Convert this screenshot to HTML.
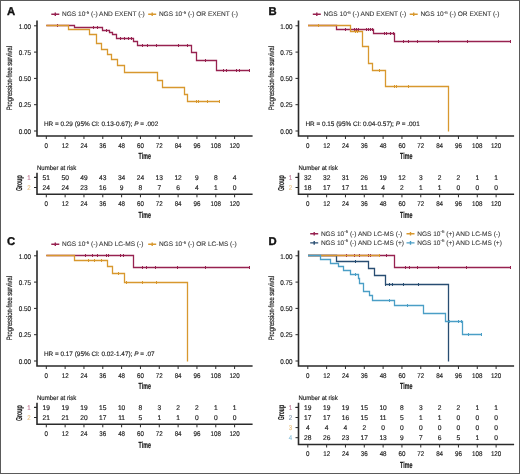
<!DOCTYPE html><html><head><meta charset="utf-8"><style>html,body{margin:0;padding:0;background:#fff;width:520px;height:474px;overflow:hidden}svg{display:block;will-change:transform;text-rendering:geometricPrecision}</style></head><body><svg width="520" height="474" viewBox="0 0 520 474" font-family='"Liberation Sans", sans-serif'>
<rect x="0" y="0" width="520" height="474" fill="#fff"/>
<text x="6.90" y="14.70" font-size="11.3" text-anchor="start" fill="#111" font-weight="bold" stroke="#111" stroke-width="0.35">A</text>
<path d="M51.30,14.30 L59.30,14.30 M55.30,12.50 L55.30,16.10" stroke="#972250" stroke-width="1.4" fill="none"/>
<text x="62.00" y="16.20" font-size="6.55" fill="#3a3a3a" stroke="#3a3a3a" stroke-width="0.1">NGS 10<tspan dy="-2.6" font-size="4.4">-5</tspan><tspan dy="2.6"> (-) AND EXENT (-)</tspan></text>
<path d="M148.20,14.30 L156.20,14.30 M152.20,12.50 L152.20,16.10" stroke="#D8982E" stroke-width="1.4" fill="none"/>
<text x="158.90" y="16.20" font-size="6.55" fill="#3a3a3a" stroke="#3a3a3a" stroke-width="0.1">NGS 10<tspan dy="-2.6" font-size="4.4">-5</tspan><tspan dy="2.6"> (-) OR EXENT (-)</tspan></text>
<path d="M37.00,20.50 L37.00,136.00 L252.60,136.00" fill="none" stroke="#2a2a2a" stroke-width="1.6"/>
<text transform="translate(31.00,28.50) scale(0.92,1)" font-size="6.9" text-anchor="end" fill="#222222" font-weight="normal"  stroke="#222222" stroke-width="0.16">1.00</text>
<text transform="translate(31.00,54.80) scale(0.92,1)" font-size="6.9" text-anchor="end" fill="#222222" font-weight="normal"  stroke="#222222" stroke-width="0.16">0.75</text>
<text transform="translate(31.00,81.10) scale(0.92,1)" font-size="6.9" text-anchor="end" fill="#222222" font-weight="normal"  stroke="#222222" stroke-width="0.16">0.50</text>
<text transform="translate(31.00,107.40) scale(0.92,1)" font-size="6.9" text-anchor="end" fill="#222222" font-weight="normal"  stroke="#222222" stroke-width="0.16">0.25</text>
<text transform="translate(31.00,133.70) scale(0.92,1)" font-size="6.9" text-anchor="end" fill="#222222" font-weight="normal"  stroke="#222222" stroke-width="0.16">0.00</text>
<text transform="translate(46.30,147.90) scale(0.9,1)" font-size="6.9" text-anchor="middle" fill="#222222" font-weight="normal"  stroke="#222222" stroke-width="0.16">0</text>
<text transform="translate(65.13,147.90) scale(0.9,1)" font-size="6.9" text-anchor="middle" fill="#222222" font-weight="normal"  stroke="#222222" stroke-width="0.16">12</text>
<text transform="translate(83.96,147.90) scale(0.9,1)" font-size="6.9" text-anchor="middle" fill="#222222" font-weight="normal"  stroke="#222222" stroke-width="0.16">24</text>
<text transform="translate(102.79,147.90) scale(0.9,1)" font-size="6.9" text-anchor="middle" fill="#222222" font-weight="normal"  stroke="#222222" stroke-width="0.16">36</text>
<text transform="translate(121.62,147.90) scale(0.9,1)" font-size="6.9" text-anchor="middle" fill="#222222" font-weight="normal"  stroke="#222222" stroke-width="0.16">48</text>
<text transform="translate(140.45,147.90) scale(0.9,1)" font-size="6.9" text-anchor="middle" fill="#222222" font-weight="normal"  stroke="#222222" stroke-width="0.16">60</text>
<text transform="translate(159.28,147.90) scale(0.9,1)" font-size="6.9" text-anchor="middle" fill="#222222" font-weight="normal"  stroke="#222222" stroke-width="0.16">72</text>
<text transform="translate(178.11,147.90) scale(0.9,1)" font-size="6.9" text-anchor="middle" fill="#222222" font-weight="normal"  stroke="#222222" stroke-width="0.16">84</text>
<text transform="translate(196.94,147.90) scale(0.9,1)" font-size="6.9" text-anchor="middle" fill="#222222" font-weight="normal"  stroke="#222222" stroke-width="0.16">96</text>
<text transform="translate(215.77,147.90) scale(0.9,1)" font-size="6.9" text-anchor="middle" fill="#222222" font-weight="normal"  stroke="#222222" stroke-width="0.16">108</text>
<text transform="translate(234.60,147.90) scale(0.9,1)" font-size="6.9" text-anchor="middle" fill="#222222" font-weight="normal"  stroke="#222222" stroke-width="0.16">120</text>
<path d="M34.00,25.80 L37.00,25.80 M34.00,52.10 L37.00,52.10 M34.00,78.40 L37.00,78.40 M34.00,104.70 L37.00,104.70 M34.00,131.00 L37.00,131.00 M46.30,136.00 L46.30,139.00 M65.13,136.00 L65.13,139.00 M83.96,136.00 L83.96,139.00 M102.79,136.00 L102.79,139.00 M121.62,136.00 L121.62,139.00 M140.45,136.00 L140.45,139.00 M159.28,136.00 L159.28,139.00 M178.11,136.00 L178.11,139.00 M196.94,136.00 L196.94,139.00 M215.77,136.00 L215.77,139.00 M234.60,136.00 L234.60,139.00 " fill="none" stroke="#2a2a2a" stroke-width="1"/>
<text transform="translate(144.70,159.30) scale(0.6,1)" font-size="8.8" text-anchor="middle" fill="#222222" font-weight="bold"  stroke="#222222" stroke-width="0.22">Time</text>
<text transform="translate(12.30,78.20) rotate(-90) scale(0.745,1)" font-size="7.8" stroke="#222222" stroke-width="0.2" text-anchor="middle" fill="#222222">Progression-free survival</text>
<text x="43.90" y="125.90" font-size="6.42" fill="#222222" stroke="#222222" stroke-width="0.14">HR = 0.29 (95% CI: 0.13-0.67); <tspan font-style="italic">P</tspan> = .002</text>
<path d="M46.30,25.50 L74.50,25.50 L74.50,27.50 L102.50,27.50 L102.50,30.50 L109.50,30.50 L109.50,32.50 L112.50,32.50 L112.50,34.50 L116.50,34.50 L116.50,38.50 L133.50,38.50 L133.50,41.50 L137.50,41.50 L137.50,45.50 L191.50,45.50 L191.50,52.50 L196.50,52.50 L196.50,60.50 L216.50,60.50 L216.50,70.50 L249.50,70.50" fill="none" stroke="#972250" stroke-width="1.3" stroke-linejoin="miter"/>
<path d="M57.50,24.00 L57.50,27.00 M93.50,26.00 L93.50,29.00 M97.50,26.00 L97.50,29.00 M106.50,29.00 L106.50,32.00 M120.50,37.00 L120.50,40.00 M124.50,37.00 L124.50,40.00 M128.50,37.00 L128.50,40.00 M131.50,37.00 L131.50,40.00 M142.50,44.00 L142.50,47.00 M147.50,44.00 L147.50,47.00 M156.50,44.00 L156.50,47.00 M178.50,44.00 L178.50,47.00 M187.50,44.00 L187.50,47.00 M205.50,59.00 L205.50,62.00 M223.50,69.00 L223.50,72.00 M226.50,69.00 L226.50,72.00 M236.50,69.00 L236.50,72.00 M239.50,69.00 L239.50,72.00 M249.50,69.00 L249.50,72.00 " fill="none" stroke="#972250" stroke-width="1.0"/>
<path d="M46.30,25.50 L68.50,25.50 L68.50,29.50 L89.50,29.50 L89.50,34.50 L96.50,34.50 L96.50,43.50 L101.50,43.50 L101.50,49.50 L107.50,49.50 L107.50,54.50 L111.50,54.50 L111.50,59.50 L117.50,59.50 L117.50,65.50 L124.50,65.50 L124.50,72.50 L157.50,72.50 L157.50,80.50 L162.50,80.50 L162.50,87.50 L184.50,87.50 L184.50,94.50 L187.50,94.50 L187.50,101.50 L219.50,101.50" fill="none" stroke="#D8982E" stroke-width="1.3" stroke-linejoin="miter"/>
<path d="M196.50,100.00 L196.50,103.00 M198.50,100.00 L198.50,103.00 M207.50,100.00 L207.50,103.00 M219.50,100.00 L219.50,103.00 " fill="none" stroke="#D8982E" stroke-width="1.0"/>
<text transform="translate(37.00,170.00) scale(0.93,1)" font-size="6.5" text-anchor="start" fill="#222222" font-weight="normal"  stroke="#222222" stroke-width="0.16">Number at risk</text>
<text transform="translate(46.30,206.10) scale(0.9,1)" font-size="6.9" text-anchor="middle" fill="#222222" font-weight="normal"  stroke="#222222" stroke-width="0.16">0</text>
<text transform="translate(65.13,206.10) scale(0.9,1)" font-size="6.9" text-anchor="middle" fill="#222222" font-weight="normal"  stroke="#222222" stroke-width="0.16">12</text>
<text transform="translate(83.96,206.10) scale(0.9,1)" font-size="6.9" text-anchor="middle" fill="#222222" font-weight="normal"  stroke="#222222" stroke-width="0.16">24</text>
<text transform="translate(102.79,206.10) scale(0.9,1)" font-size="6.9" text-anchor="middle" fill="#222222" font-weight="normal"  stroke="#222222" stroke-width="0.16">36</text>
<text transform="translate(121.62,206.10) scale(0.9,1)" font-size="6.9" text-anchor="middle" fill="#222222" font-weight="normal"  stroke="#222222" stroke-width="0.16">48</text>
<text transform="translate(140.45,206.10) scale(0.9,1)" font-size="6.9" text-anchor="middle" fill="#222222" font-weight="normal"  stroke="#222222" stroke-width="0.16">60</text>
<text transform="translate(159.28,206.10) scale(0.9,1)" font-size="6.9" text-anchor="middle" fill="#222222" font-weight="normal"  stroke="#222222" stroke-width="0.16">72</text>
<text transform="translate(178.11,206.10) scale(0.9,1)" font-size="6.9" text-anchor="middle" fill="#222222" font-weight="normal"  stroke="#222222" stroke-width="0.16">84</text>
<text transform="translate(196.94,206.10) scale(0.9,1)" font-size="6.9" text-anchor="middle" fill="#222222" font-weight="normal"  stroke="#222222" stroke-width="0.16">96</text>
<text transform="translate(215.77,206.10) scale(0.9,1)" font-size="6.9" text-anchor="middle" fill="#222222" font-weight="normal"  stroke="#222222" stroke-width="0.16">108</text>
<text transform="translate(234.60,206.10) scale(0.9,1)" font-size="6.9" text-anchor="middle" fill="#222222" font-weight="normal"  stroke="#222222" stroke-width="0.16">120</text>
<path d="M37.00,172.70 L37.00,194.30 L252.60,194.30" fill="none" stroke="#2a2a2a" stroke-width="1.6"/>
<path d="M34.00,177.40 L37.00,177.40 M34.00,177.40 L37.00,177.40 M34.00,187.50 L37.00,187.50 M46.30,194.30 L46.30,197.30 M65.13,194.30 L65.13,197.30 M83.96,194.30 L83.96,197.30 M102.79,194.30 L102.79,197.30 M121.62,194.30 L121.62,197.30 M140.45,194.30 L140.45,197.30 M159.28,194.30 L159.28,197.30 M178.11,194.30 L178.11,197.30 M196.94,194.30 L196.94,197.30 M215.77,194.30 L215.77,197.30 M234.60,194.30 L234.60,197.30 " fill="none" stroke="#2a2a2a" stroke-width="1"/>
<text transform="translate(29.00,179.70) scale(0.9,1)" font-size="6.8" text-anchor="middle" fill="#972250" font-weight="normal" opacity="0.6" stroke="#972250" stroke-width="0.16">1</text>
<text transform="translate(46.30,179.70) scale(0.98,1)" font-size="6.8" text-anchor="middle" fill="#222222" font-weight="normal"  stroke="#222222" stroke-width="0.16">51</text>
<text transform="translate(65.13,179.70) scale(0.98,1)" font-size="6.8" text-anchor="middle" fill="#222222" font-weight="normal"  stroke="#222222" stroke-width="0.16">50</text>
<text transform="translate(83.96,179.70) scale(0.98,1)" font-size="6.8" text-anchor="middle" fill="#222222" font-weight="normal"  stroke="#222222" stroke-width="0.16">49</text>
<text transform="translate(102.79,179.70) scale(0.98,1)" font-size="6.8" text-anchor="middle" fill="#222222" font-weight="normal"  stroke="#222222" stroke-width="0.16">43</text>
<text transform="translate(121.62,179.70) scale(0.98,1)" font-size="6.8" text-anchor="middle" fill="#222222" font-weight="normal"  stroke="#222222" stroke-width="0.16">34</text>
<text transform="translate(140.45,179.70) scale(0.98,1)" font-size="6.8" text-anchor="middle" fill="#222222" font-weight="normal"  stroke="#222222" stroke-width="0.16">24</text>
<text transform="translate(159.28,179.70) scale(0.98,1)" font-size="6.8" text-anchor="middle" fill="#222222" font-weight="normal"  stroke="#222222" stroke-width="0.16">13</text>
<text transform="translate(178.11,179.70) scale(0.98,1)" font-size="6.8" text-anchor="middle" fill="#222222" font-weight="normal"  stroke="#222222" stroke-width="0.16">12</text>
<text transform="translate(196.94,179.70) scale(0.98,1)" font-size="6.8" text-anchor="middle" fill="#222222" font-weight="normal"  stroke="#222222" stroke-width="0.16">9</text>
<text transform="translate(215.77,179.70) scale(0.98,1)" font-size="6.8" text-anchor="middle" fill="#222222" font-weight="normal"  stroke="#222222" stroke-width="0.16">8</text>
<text transform="translate(234.60,179.70) scale(0.98,1)" font-size="6.8" text-anchor="middle" fill="#222222" font-weight="normal"  stroke="#222222" stroke-width="0.16">4</text>
<text transform="translate(29.00,189.80) scale(0.9,1)" font-size="6.8" text-anchor="middle" fill="#D8982E" font-weight="normal" opacity="0.6" stroke="#D8982E" stroke-width="0.16">2</text>
<text transform="translate(46.30,189.80) scale(0.98,1)" font-size="6.8" text-anchor="middle" fill="#222222" font-weight="normal"  stroke="#222222" stroke-width="0.16">24</text>
<text transform="translate(65.13,189.80) scale(0.98,1)" font-size="6.8" text-anchor="middle" fill="#222222" font-weight="normal"  stroke="#222222" stroke-width="0.16">24</text>
<text transform="translate(83.96,189.80) scale(0.98,1)" font-size="6.8" text-anchor="middle" fill="#222222" font-weight="normal"  stroke="#222222" stroke-width="0.16">23</text>
<text transform="translate(102.79,189.80) scale(0.98,1)" font-size="6.8" text-anchor="middle" fill="#222222" font-weight="normal"  stroke="#222222" stroke-width="0.16">16</text>
<text transform="translate(121.62,189.80) scale(0.98,1)" font-size="6.8" text-anchor="middle" fill="#222222" font-weight="normal"  stroke="#222222" stroke-width="0.16">9</text>
<text transform="translate(140.45,189.80) scale(0.98,1)" font-size="6.8" text-anchor="middle" fill="#222222" font-weight="normal"  stroke="#222222" stroke-width="0.16">8</text>
<text transform="translate(159.28,189.80) scale(0.98,1)" font-size="6.8" text-anchor="middle" fill="#222222" font-weight="normal"  stroke="#222222" stroke-width="0.16">7</text>
<text transform="translate(178.11,189.80) scale(0.98,1)" font-size="6.8" text-anchor="middle" fill="#222222" font-weight="normal"  stroke="#222222" stroke-width="0.16">6</text>
<text transform="translate(196.94,189.80) scale(0.98,1)" font-size="6.8" text-anchor="middle" fill="#222222" font-weight="normal"  stroke="#222222" stroke-width="0.16">4</text>
<text transform="translate(215.77,189.80) scale(0.98,1)" font-size="6.8" text-anchor="middle" fill="#222222" font-weight="normal"  stroke="#222222" stroke-width="0.16">1</text>
<text transform="translate(234.60,189.80) scale(0.98,1)" font-size="6.8" text-anchor="middle" fill="#222222" font-weight="normal"  stroke="#222222" stroke-width="0.16">0</text>
<text transform="translate(144.70,217.70) scale(0.6,1)" font-size="8.8" text-anchor="middle" fill="#222222" font-weight="bold"  stroke="#222222" stroke-width="0.22">Time</text>
<text transform="translate(22.00,183.20) rotate(-90) scale(0.6,1)" font-size="8.6" font-weight="bold" stroke="#222222" stroke-width="0.2" text-anchor="middle" fill="#222222">Group</text>
<text x="268.40" y="14.70" font-size="11.3" text-anchor="start" fill="#111" font-weight="bold" stroke="#111" stroke-width="0.35">B</text>
<path d="M312.80,14.30 L320.80,14.30 M316.80,12.50 L316.80,16.10" stroke="#972250" stroke-width="1.4" fill="none"/>
<text x="323.50" y="16.20" font-size="6.55" fill="#3a3a3a" stroke="#3a3a3a" stroke-width="0.1">NGS 10<tspan dy="-2.6" font-size="4.4">-6</tspan><tspan dy="2.6"> (-) AND EXENT (-)</tspan></text>
<path d="M409.70,14.30 L417.70,14.30 M413.70,12.50 L413.70,16.10" stroke="#D8982E" stroke-width="1.4" fill="none"/>
<text x="420.40" y="16.20" font-size="6.55" fill="#3a3a3a" stroke="#3a3a3a" stroke-width="0.1">NGS 10<tspan dy="-2.6" font-size="4.4">-6</tspan><tspan dy="2.6"> (-) OR EXENT (-)</tspan></text>
<path d="M298.50,20.50 L298.50,136.00 L514.10,136.00" fill="none" stroke="#2a2a2a" stroke-width="1.6"/>
<text transform="translate(292.50,28.50) scale(0.92,1)" font-size="6.9" text-anchor="end" fill="#222222" font-weight="normal"  stroke="#222222" stroke-width="0.16">1.00</text>
<text transform="translate(292.50,54.80) scale(0.92,1)" font-size="6.9" text-anchor="end" fill="#222222" font-weight="normal"  stroke="#222222" stroke-width="0.16">0.75</text>
<text transform="translate(292.50,81.10) scale(0.92,1)" font-size="6.9" text-anchor="end" fill="#222222" font-weight="normal"  stroke="#222222" stroke-width="0.16">0.50</text>
<text transform="translate(292.50,107.40) scale(0.92,1)" font-size="6.9" text-anchor="end" fill="#222222" font-weight="normal"  stroke="#222222" stroke-width="0.16">0.25</text>
<text transform="translate(292.50,133.70) scale(0.92,1)" font-size="6.9" text-anchor="end" fill="#222222" font-weight="normal"  stroke="#222222" stroke-width="0.16">0.00</text>
<text transform="translate(307.80,147.90) scale(0.9,1)" font-size="6.9" text-anchor="middle" fill="#222222" font-weight="normal"  stroke="#222222" stroke-width="0.16">0</text>
<text transform="translate(326.63,147.90) scale(0.9,1)" font-size="6.9" text-anchor="middle" fill="#222222" font-weight="normal"  stroke="#222222" stroke-width="0.16">12</text>
<text transform="translate(345.46,147.90) scale(0.9,1)" font-size="6.9" text-anchor="middle" fill="#222222" font-weight="normal"  stroke="#222222" stroke-width="0.16">24</text>
<text transform="translate(364.29,147.90) scale(0.9,1)" font-size="6.9" text-anchor="middle" fill="#222222" font-weight="normal"  stroke="#222222" stroke-width="0.16">36</text>
<text transform="translate(383.12,147.90) scale(0.9,1)" font-size="6.9" text-anchor="middle" fill="#222222" font-weight="normal"  stroke="#222222" stroke-width="0.16">48</text>
<text transform="translate(401.95,147.90) scale(0.9,1)" font-size="6.9" text-anchor="middle" fill="#222222" font-weight="normal"  stroke="#222222" stroke-width="0.16">60</text>
<text transform="translate(420.78,147.90) scale(0.9,1)" font-size="6.9" text-anchor="middle" fill="#222222" font-weight="normal"  stroke="#222222" stroke-width="0.16">72</text>
<text transform="translate(439.61,147.90) scale(0.9,1)" font-size="6.9" text-anchor="middle" fill="#222222" font-weight="normal"  stroke="#222222" stroke-width="0.16">84</text>
<text transform="translate(458.44,147.90) scale(0.9,1)" font-size="6.9" text-anchor="middle" fill="#222222" font-weight="normal"  stroke="#222222" stroke-width="0.16">96</text>
<text transform="translate(477.27,147.90) scale(0.9,1)" font-size="6.9" text-anchor="middle" fill="#222222" font-weight="normal"  stroke="#222222" stroke-width="0.16">108</text>
<text transform="translate(496.10,147.90) scale(0.9,1)" font-size="6.9" text-anchor="middle" fill="#222222" font-weight="normal"  stroke="#222222" stroke-width="0.16">120</text>
<path d="M295.50,25.80 L298.50,25.80 M295.50,52.10 L298.50,52.10 M295.50,78.40 L298.50,78.40 M295.50,104.70 L298.50,104.70 M295.50,131.00 L298.50,131.00 M307.80,136.00 L307.80,139.00 M326.63,136.00 L326.63,139.00 M345.46,136.00 L345.46,139.00 M364.29,136.00 L364.29,139.00 M383.12,136.00 L383.12,139.00 M401.95,136.00 L401.95,139.00 M420.78,136.00 L420.78,139.00 M439.61,136.00 L439.61,139.00 M458.44,136.00 L458.44,139.00 M477.27,136.00 L477.27,139.00 M496.10,136.00 L496.10,139.00 " fill="none" stroke="#2a2a2a" stroke-width="1"/>
<text transform="translate(406.20,159.30) scale(0.6,1)" font-size="8.8" text-anchor="middle" fill="#222222" font-weight="bold"  stroke="#222222" stroke-width="0.22">Time</text>
<text transform="translate(273.80,78.20) rotate(-90) scale(0.745,1)" font-size="7.8" stroke="#222222" stroke-width="0.2" text-anchor="middle" fill="#222222">Progression-free survival</text>
<text x="305.40" y="125.90" font-size="6.42" fill="#222222" stroke="#222222" stroke-width="0.14">HR = 0.15 (95% CI: 0.04-0.57); <tspan font-style="italic">P</tspan> = .001</text>
<path d="M308.00,25.50 L336.50,25.50 L336.50,29.50 L373.50,29.50 L373.50,33.50 L394.50,33.50 L394.50,41.50 L510.50,41.50" fill="none" stroke="#972250" stroke-width="1.3" stroke-linejoin="miter"/>
<path d="M345.50,28.00 L345.50,31.00 M350.50,28.00 L350.50,31.00 M354.50,28.00 L354.50,31.00 M356.50,28.00 L356.50,31.00 M358.50,28.00 L358.50,31.00 M366.50,28.00 L366.50,31.00 M368.50,28.00 L368.50,31.00 M370.50,28.00 L370.50,31.00 M372.50,28.00 L372.50,31.00 M384.50,32.00 L384.50,35.00 M386.50,32.00 L386.50,35.00 M390.50,32.00 L390.50,35.00 M393.50,32.00 L393.50,35.00 M403.50,40.00 L403.50,43.00 M408.50,40.00 L408.50,43.00 M417.50,40.00 L417.50,43.00 M438.50,40.00 L438.50,43.00 M467.50,40.00 L467.50,43.00 M510.50,40.00 L510.50,43.00 " fill="none" stroke="#972250" stroke-width="1.0"/>
<path d="M308.00,25.50 L350.50,25.50 L350.50,31.50 L362.50,31.50 L362.50,46.50 L368.50,46.50 L368.50,63.50 L372.50,63.50 L372.50,70.50 L385.50,70.50 L385.50,86.50 L448.50,86.50 L448.50,131.50 L448.50,131.50" fill="none" stroke="#D8982E" stroke-width="1.3" stroke-linejoin="miter"/>
<path d="M318.50,24.00 L318.50,27.00 M355.50,30.00 L355.50,33.00 M357.50,30.00 L357.50,33.00 M379.50,69.00 L379.50,72.00 M394.50,85.00 L394.50,88.00 M396.50,85.00 L396.50,88.00 M408.50,85.00 L408.50,88.00 " fill="none" stroke="#D8982E" stroke-width="1.0"/>
<text transform="translate(298.50,170.00) scale(0.93,1)" font-size="6.5" text-anchor="start" fill="#222222" font-weight="normal"  stroke="#222222" stroke-width="0.16">Number at risk</text>
<text transform="translate(307.80,206.10) scale(0.9,1)" font-size="6.9" text-anchor="middle" fill="#222222" font-weight="normal"  stroke="#222222" stroke-width="0.16">0</text>
<text transform="translate(326.63,206.10) scale(0.9,1)" font-size="6.9" text-anchor="middle" fill="#222222" font-weight="normal"  stroke="#222222" stroke-width="0.16">12</text>
<text transform="translate(345.46,206.10) scale(0.9,1)" font-size="6.9" text-anchor="middle" fill="#222222" font-weight="normal"  stroke="#222222" stroke-width="0.16">24</text>
<text transform="translate(364.29,206.10) scale(0.9,1)" font-size="6.9" text-anchor="middle" fill="#222222" font-weight="normal"  stroke="#222222" stroke-width="0.16">36</text>
<text transform="translate(383.12,206.10) scale(0.9,1)" font-size="6.9" text-anchor="middle" fill="#222222" font-weight="normal"  stroke="#222222" stroke-width="0.16">48</text>
<text transform="translate(401.95,206.10) scale(0.9,1)" font-size="6.9" text-anchor="middle" fill="#222222" font-weight="normal"  stroke="#222222" stroke-width="0.16">60</text>
<text transform="translate(420.78,206.10) scale(0.9,1)" font-size="6.9" text-anchor="middle" fill="#222222" font-weight="normal"  stroke="#222222" stroke-width="0.16">72</text>
<text transform="translate(439.61,206.10) scale(0.9,1)" font-size="6.9" text-anchor="middle" fill="#222222" font-weight="normal"  stroke="#222222" stroke-width="0.16">84</text>
<text transform="translate(458.44,206.10) scale(0.9,1)" font-size="6.9" text-anchor="middle" fill="#222222" font-weight="normal"  stroke="#222222" stroke-width="0.16">96</text>
<text transform="translate(477.27,206.10) scale(0.9,1)" font-size="6.9" text-anchor="middle" fill="#222222" font-weight="normal"  stroke="#222222" stroke-width="0.16">108</text>
<text transform="translate(496.10,206.10) scale(0.9,1)" font-size="6.9" text-anchor="middle" fill="#222222" font-weight="normal"  stroke="#222222" stroke-width="0.16">120</text>
<path d="M298.50,172.70 L298.50,194.30 L514.10,194.30" fill="none" stroke="#2a2a2a" stroke-width="1.6"/>
<path d="M295.50,177.40 L298.50,177.40 M295.50,177.40 L298.50,177.40 M295.50,187.50 L298.50,187.50 M307.80,194.30 L307.80,197.30 M326.63,194.30 L326.63,197.30 M345.46,194.30 L345.46,197.30 M364.29,194.30 L364.29,197.30 M383.12,194.30 L383.12,197.30 M401.95,194.30 L401.95,197.30 M420.78,194.30 L420.78,197.30 M439.61,194.30 L439.61,197.30 M458.44,194.30 L458.44,197.30 M477.27,194.30 L477.27,197.30 M496.10,194.30 L496.10,197.30 " fill="none" stroke="#2a2a2a" stroke-width="1"/>
<text transform="translate(290.50,179.70) scale(0.9,1)" font-size="6.8" text-anchor="middle" fill="#972250" font-weight="normal" opacity="0.6" stroke="#972250" stroke-width="0.16">1</text>
<text transform="translate(307.80,179.70) scale(0.98,1)" font-size="6.8" text-anchor="middle" fill="#222222" font-weight="normal"  stroke="#222222" stroke-width="0.16">32</text>
<text transform="translate(326.63,179.70) scale(0.98,1)" font-size="6.8" text-anchor="middle" fill="#222222" font-weight="normal"  stroke="#222222" stroke-width="0.16">32</text>
<text transform="translate(345.46,179.70) scale(0.98,1)" font-size="6.8" text-anchor="middle" fill="#222222" font-weight="normal"  stroke="#222222" stroke-width="0.16">31</text>
<text transform="translate(364.29,179.70) scale(0.98,1)" font-size="6.8" text-anchor="middle" fill="#222222" font-weight="normal"  stroke="#222222" stroke-width="0.16">26</text>
<text transform="translate(383.12,179.70) scale(0.98,1)" font-size="6.8" text-anchor="middle" fill="#222222" font-weight="normal"  stroke="#222222" stroke-width="0.16">19</text>
<text transform="translate(401.95,179.70) scale(0.98,1)" font-size="6.8" text-anchor="middle" fill="#222222" font-weight="normal"  stroke="#222222" stroke-width="0.16">12</text>
<text transform="translate(420.78,179.70) scale(0.98,1)" font-size="6.8" text-anchor="middle" fill="#222222" font-weight="normal"  stroke="#222222" stroke-width="0.16">3</text>
<text transform="translate(439.61,179.70) scale(0.98,1)" font-size="6.8" text-anchor="middle" fill="#222222" font-weight="normal"  stroke="#222222" stroke-width="0.16">2</text>
<text transform="translate(458.44,179.70) scale(0.98,1)" font-size="6.8" text-anchor="middle" fill="#222222" font-weight="normal"  stroke="#222222" stroke-width="0.16">2</text>
<text transform="translate(477.27,179.70) scale(0.98,1)" font-size="6.8" text-anchor="middle" fill="#222222" font-weight="normal"  stroke="#222222" stroke-width="0.16">1</text>
<text transform="translate(496.10,179.70) scale(0.98,1)" font-size="6.8" text-anchor="middle" fill="#222222" font-weight="normal"  stroke="#222222" stroke-width="0.16">1</text>
<text transform="translate(290.50,189.80) scale(0.9,1)" font-size="6.8" text-anchor="middle" fill="#D8982E" font-weight="normal" opacity="0.6" stroke="#D8982E" stroke-width="0.16">2</text>
<text transform="translate(307.80,189.80) scale(0.98,1)" font-size="6.8" text-anchor="middle" fill="#222222" font-weight="normal"  stroke="#222222" stroke-width="0.16">18</text>
<text transform="translate(326.63,189.80) scale(0.98,1)" font-size="6.8" text-anchor="middle" fill="#222222" font-weight="normal"  stroke="#222222" stroke-width="0.16">17</text>
<text transform="translate(345.46,189.80) scale(0.98,1)" font-size="6.8" text-anchor="middle" fill="#222222" font-weight="normal"  stroke="#222222" stroke-width="0.16">17</text>
<text transform="translate(364.29,189.80) scale(0.98,1)" font-size="6.8" text-anchor="middle" fill="#222222" font-weight="normal"  stroke="#222222" stroke-width="0.16">11</text>
<text transform="translate(383.12,189.80) scale(0.98,1)" font-size="6.8" text-anchor="middle" fill="#222222" font-weight="normal"  stroke="#222222" stroke-width="0.16">4</text>
<text transform="translate(401.95,189.80) scale(0.98,1)" font-size="6.8" text-anchor="middle" fill="#222222" font-weight="normal"  stroke="#222222" stroke-width="0.16">2</text>
<text transform="translate(420.78,189.80) scale(0.98,1)" font-size="6.8" text-anchor="middle" fill="#222222" font-weight="normal"  stroke="#222222" stroke-width="0.16">1</text>
<text transform="translate(439.61,189.80) scale(0.98,1)" font-size="6.8" text-anchor="middle" fill="#222222" font-weight="normal"  stroke="#222222" stroke-width="0.16">1</text>
<text transform="translate(458.44,189.80) scale(0.98,1)" font-size="6.8" text-anchor="middle" fill="#222222" font-weight="normal"  stroke="#222222" stroke-width="0.16">0</text>
<text transform="translate(477.27,189.80) scale(0.98,1)" font-size="6.8" text-anchor="middle" fill="#222222" font-weight="normal"  stroke="#222222" stroke-width="0.16">0</text>
<text transform="translate(496.10,189.80) scale(0.98,1)" font-size="6.8" text-anchor="middle" fill="#222222" font-weight="normal"  stroke="#222222" stroke-width="0.16">0</text>
<text transform="translate(406.20,217.70) scale(0.6,1)" font-size="8.8" text-anchor="middle" fill="#222222" font-weight="bold"  stroke="#222222" stroke-width="0.22">Time</text>
<text transform="translate(283.50,183.20) rotate(-90) scale(0.6,1)" font-size="8.6" font-weight="bold" stroke="#222222" stroke-width="0.2" text-anchor="middle" fill="#222222">Group</text>
<text x="6.90" y="244.70" font-size="11.3" text-anchor="start" fill="#111" font-weight="bold" stroke="#111" stroke-width="0.35">C</text>
<path d="M51.30,244.30 L59.30,244.30 M55.30,242.50 L55.30,246.10" stroke="#972250" stroke-width="1.4" fill="none"/>
<text x="62.00" y="246.20" font-size="6.55" fill="#3a3a3a" stroke="#3a3a3a" stroke-width="0.1">NGS 10<tspan dy="-2.6" font-size="4.4">-6</tspan><tspan dy="2.6"> (-) AND LC-MS (-)</tspan></text>
<path d="M148.20,244.30 L156.20,244.30 M152.20,242.50 L152.20,246.10" stroke="#D8982E" stroke-width="1.4" fill="none"/>
<text x="158.90" y="246.20" font-size="6.55" fill="#3a3a3a" stroke="#3a3a3a" stroke-width="0.1">NGS 10<tspan dy="-2.6" font-size="4.4">-6</tspan><tspan dy="2.6"> (-) OR LC-MS (-)</tspan></text>
<path d="M37.00,250.50 L37.00,366.00 L252.60,366.00" fill="none" stroke="#2a2a2a" stroke-width="1.6"/>
<text transform="translate(31.00,258.50) scale(0.92,1)" font-size="6.9" text-anchor="end" fill="#222222" font-weight="normal"  stroke="#222222" stroke-width="0.16">1.00</text>
<text transform="translate(31.00,284.80) scale(0.92,1)" font-size="6.9" text-anchor="end" fill="#222222" font-weight="normal"  stroke="#222222" stroke-width="0.16">0.75</text>
<text transform="translate(31.00,311.10) scale(0.92,1)" font-size="6.9" text-anchor="end" fill="#222222" font-weight="normal"  stroke="#222222" stroke-width="0.16">0.50</text>
<text transform="translate(31.00,337.40) scale(0.92,1)" font-size="6.9" text-anchor="end" fill="#222222" font-weight="normal"  stroke="#222222" stroke-width="0.16">0.25</text>
<text transform="translate(31.00,363.70) scale(0.92,1)" font-size="6.9" text-anchor="end" fill="#222222" font-weight="normal"  stroke="#222222" stroke-width="0.16">0.00</text>
<text transform="translate(46.30,377.90) scale(0.9,1)" font-size="6.9" text-anchor="middle" fill="#222222" font-weight="normal"  stroke="#222222" stroke-width="0.16">0</text>
<text transform="translate(65.13,377.90) scale(0.9,1)" font-size="6.9" text-anchor="middle" fill="#222222" font-weight="normal"  stroke="#222222" stroke-width="0.16">12</text>
<text transform="translate(83.96,377.90) scale(0.9,1)" font-size="6.9" text-anchor="middle" fill="#222222" font-weight="normal"  stroke="#222222" stroke-width="0.16">24</text>
<text transform="translate(102.79,377.90) scale(0.9,1)" font-size="6.9" text-anchor="middle" fill="#222222" font-weight="normal"  stroke="#222222" stroke-width="0.16">36</text>
<text transform="translate(121.62,377.90) scale(0.9,1)" font-size="6.9" text-anchor="middle" fill="#222222" font-weight="normal"  stroke="#222222" stroke-width="0.16">48</text>
<text transform="translate(140.45,377.90) scale(0.9,1)" font-size="6.9" text-anchor="middle" fill="#222222" font-weight="normal"  stroke="#222222" stroke-width="0.16">60</text>
<text transform="translate(159.28,377.90) scale(0.9,1)" font-size="6.9" text-anchor="middle" fill="#222222" font-weight="normal"  stroke="#222222" stroke-width="0.16">72</text>
<text transform="translate(178.11,377.90) scale(0.9,1)" font-size="6.9" text-anchor="middle" fill="#222222" font-weight="normal"  stroke="#222222" stroke-width="0.16">84</text>
<text transform="translate(196.94,377.90) scale(0.9,1)" font-size="6.9" text-anchor="middle" fill="#222222" font-weight="normal"  stroke="#222222" stroke-width="0.16">96</text>
<text transform="translate(215.77,377.90) scale(0.9,1)" font-size="6.9" text-anchor="middle" fill="#222222" font-weight="normal"  stroke="#222222" stroke-width="0.16">108</text>
<text transform="translate(234.60,377.90) scale(0.9,1)" font-size="6.9" text-anchor="middle" fill="#222222" font-weight="normal"  stroke="#222222" stroke-width="0.16">120</text>
<path d="M34.00,255.80 L37.00,255.80 M34.00,282.10 L37.00,282.10 M34.00,308.40 L37.00,308.40 M34.00,334.70 L37.00,334.70 M34.00,361.00 L37.00,361.00 M46.30,366.00 L46.30,369.00 M65.13,366.00 L65.13,369.00 M83.96,366.00 L83.96,369.00 M102.79,366.00 L102.79,369.00 M121.62,366.00 L121.62,369.00 M140.45,366.00 L140.45,369.00 M159.28,366.00 L159.28,369.00 M178.11,366.00 L178.11,369.00 M196.94,366.00 L196.94,369.00 M215.77,366.00 L215.77,369.00 M234.60,366.00 L234.60,369.00 " fill="none" stroke="#2a2a2a" stroke-width="1"/>
<text transform="translate(144.70,389.30) scale(0.6,1)" font-size="8.8" text-anchor="middle" fill="#222222" font-weight="bold"  stroke="#222222" stroke-width="0.22">Time</text>
<text transform="translate(12.30,308.20) rotate(-90) scale(0.745,1)" font-size="7.8" stroke="#222222" stroke-width="0.2" text-anchor="middle" fill="#222222">Progression-free survival</text>
<text x="43.90" y="355.90" font-size="6.42" fill="#222222" stroke="#222222" stroke-width="0.14">HR = 0.17 (95% CI: 0.02-1.47); <tspan font-style="italic">P</tspan> = .07</text>
<path d="M46.30,255.50 L133.50,255.50 L133.50,267.50 L249.50,267.50" fill="none" stroke="#972250" stroke-width="1.3" stroke-linejoin="miter"/>
<path d="M85.50,254.00 L85.50,257.00 M92.50,254.00 L92.50,257.00 M97.50,254.00 L97.50,257.00 M106.50,254.00 L106.50,257.00 M108.50,254.00 L108.50,257.00 M120.50,254.00 L120.50,257.00 M123.50,254.00 L123.50,257.00 M142.50,266.00 L142.50,269.00 M146.50,266.00 L146.50,269.00 M155.50,266.00 L155.50,269.00 M177.50,266.00 L177.50,269.00 M205.50,266.00 L205.50,269.00 M249.50,266.00 L249.50,269.00 " fill="none" stroke="#972250" stroke-width="1.0"/>
<path d="M46.30,255.50 L74.50,255.50 L74.50,260.50 L107.50,260.50 L107.50,266.50 L112.50,266.50 L112.50,273.50 L124.50,273.50 L124.50,282.50 L187.50,282.50 L187.50,361.50 L187.50,361.50" fill="none" stroke="#D8982E" stroke-width="1.3" stroke-linejoin="miter"/>
<path d="M88.50,259.00 L88.50,262.00 M94.50,259.00 L94.50,262.00 M101.50,259.00 L101.50,262.00 M118.50,272.00 L118.50,275.00 M126.50,281.00 L126.50,284.00 M142.50,281.00 L142.50,284.00 M156.50,281.00 L156.50,284.00 " fill="none" stroke="#D8982E" stroke-width="1.0"/>
<text transform="translate(37.00,400.00) scale(0.93,1)" font-size="6.5" text-anchor="start" fill="#222222" font-weight="normal"  stroke="#222222" stroke-width="0.16">Number at risk</text>
<text transform="translate(46.30,436.10) scale(0.9,1)" font-size="6.9" text-anchor="middle" fill="#222222" font-weight="normal"  stroke="#222222" stroke-width="0.16">0</text>
<text transform="translate(65.13,436.10) scale(0.9,1)" font-size="6.9" text-anchor="middle" fill="#222222" font-weight="normal"  stroke="#222222" stroke-width="0.16">12</text>
<text transform="translate(83.96,436.10) scale(0.9,1)" font-size="6.9" text-anchor="middle" fill="#222222" font-weight="normal"  stroke="#222222" stroke-width="0.16">24</text>
<text transform="translate(102.79,436.10) scale(0.9,1)" font-size="6.9" text-anchor="middle" fill="#222222" font-weight="normal"  stroke="#222222" stroke-width="0.16">36</text>
<text transform="translate(121.62,436.10) scale(0.9,1)" font-size="6.9" text-anchor="middle" fill="#222222" font-weight="normal"  stroke="#222222" stroke-width="0.16">48</text>
<text transform="translate(140.45,436.10) scale(0.9,1)" font-size="6.9" text-anchor="middle" fill="#222222" font-weight="normal"  stroke="#222222" stroke-width="0.16">60</text>
<text transform="translate(159.28,436.10) scale(0.9,1)" font-size="6.9" text-anchor="middle" fill="#222222" font-weight="normal"  stroke="#222222" stroke-width="0.16">72</text>
<text transform="translate(178.11,436.10) scale(0.9,1)" font-size="6.9" text-anchor="middle" fill="#222222" font-weight="normal"  stroke="#222222" stroke-width="0.16">84</text>
<text transform="translate(196.94,436.10) scale(0.9,1)" font-size="6.9" text-anchor="middle" fill="#222222" font-weight="normal"  stroke="#222222" stroke-width="0.16">96</text>
<text transform="translate(215.77,436.10) scale(0.9,1)" font-size="6.9" text-anchor="middle" fill="#222222" font-weight="normal"  stroke="#222222" stroke-width="0.16">108</text>
<text transform="translate(234.60,436.10) scale(0.9,1)" font-size="6.9" text-anchor="middle" fill="#222222" font-weight="normal"  stroke="#222222" stroke-width="0.16">120</text>
<path d="M37.00,402.70 L37.00,424.30 L252.60,424.30" fill="none" stroke="#2a2a2a" stroke-width="1.6"/>
<path d="M34.00,407.40 L37.00,407.40 M34.00,407.40 L37.00,407.40 M34.00,417.50 L37.00,417.50 M46.30,424.30 L46.30,427.30 M65.13,424.30 L65.13,427.30 M83.96,424.30 L83.96,427.30 M102.79,424.30 L102.79,427.30 M121.62,424.30 L121.62,427.30 M140.45,424.30 L140.45,427.30 M159.28,424.30 L159.28,427.30 M178.11,424.30 L178.11,427.30 M196.94,424.30 L196.94,427.30 M215.77,424.30 L215.77,427.30 M234.60,424.30 L234.60,427.30 " fill="none" stroke="#2a2a2a" stroke-width="1"/>
<text transform="translate(29.00,409.70) scale(0.9,1)" font-size="6.8" text-anchor="middle" fill="#972250" font-weight="normal" opacity="0.6" stroke="#972250" stroke-width="0.16">1</text>
<text transform="translate(46.30,409.70) scale(0.98,1)" font-size="6.8" text-anchor="middle" fill="#222222" font-weight="normal"  stroke="#222222" stroke-width="0.16">19</text>
<text transform="translate(65.13,409.70) scale(0.98,1)" font-size="6.8" text-anchor="middle" fill="#222222" font-weight="normal"  stroke="#222222" stroke-width="0.16">19</text>
<text transform="translate(83.96,409.70) scale(0.98,1)" font-size="6.8" text-anchor="middle" fill="#222222" font-weight="normal"  stroke="#222222" stroke-width="0.16">19</text>
<text transform="translate(102.79,409.70) scale(0.98,1)" font-size="6.8" text-anchor="middle" fill="#222222" font-weight="normal"  stroke="#222222" stroke-width="0.16">15</text>
<text transform="translate(121.62,409.70) scale(0.98,1)" font-size="6.8" text-anchor="middle" fill="#222222" font-weight="normal"  stroke="#222222" stroke-width="0.16">10</text>
<text transform="translate(140.45,409.70) scale(0.98,1)" font-size="6.8" text-anchor="middle" fill="#222222" font-weight="normal"  stroke="#222222" stroke-width="0.16">8</text>
<text transform="translate(159.28,409.70) scale(0.98,1)" font-size="6.8" text-anchor="middle" fill="#222222" font-weight="normal"  stroke="#222222" stroke-width="0.16">3</text>
<text transform="translate(178.11,409.70) scale(0.98,1)" font-size="6.8" text-anchor="middle" fill="#222222" font-weight="normal"  stroke="#222222" stroke-width="0.16">2</text>
<text transform="translate(196.94,409.70) scale(0.98,1)" font-size="6.8" text-anchor="middle" fill="#222222" font-weight="normal"  stroke="#222222" stroke-width="0.16">2</text>
<text transform="translate(215.77,409.70) scale(0.98,1)" font-size="6.8" text-anchor="middle" fill="#222222" font-weight="normal"  stroke="#222222" stroke-width="0.16">1</text>
<text transform="translate(234.60,409.70) scale(0.98,1)" font-size="6.8" text-anchor="middle" fill="#222222" font-weight="normal"  stroke="#222222" stroke-width="0.16">1</text>
<text transform="translate(29.00,419.80) scale(0.9,1)" font-size="6.8" text-anchor="middle" fill="#D8982E" font-weight="normal" opacity="0.6" stroke="#D8982E" stroke-width="0.16">2</text>
<text transform="translate(46.30,419.80) scale(0.98,1)" font-size="6.8" text-anchor="middle" fill="#222222" font-weight="normal"  stroke="#222222" stroke-width="0.16">21</text>
<text transform="translate(65.13,419.80) scale(0.98,1)" font-size="6.8" text-anchor="middle" fill="#222222" font-weight="normal"  stroke="#222222" stroke-width="0.16">21</text>
<text transform="translate(83.96,419.80) scale(0.98,1)" font-size="6.8" text-anchor="middle" fill="#222222" font-weight="normal"  stroke="#222222" stroke-width="0.16">20</text>
<text transform="translate(102.79,419.80) scale(0.98,1)" font-size="6.8" text-anchor="middle" fill="#222222" font-weight="normal"  stroke="#222222" stroke-width="0.16">17</text>
<text transform="translate(121.62,419.80) scale(0.98,1)" font-size="6.8" text-anchor="middle" fill="#222222" font-weight="normal"  stroke="#222222" stroke-width="0.16">11</text>
<text transform="translate(140.45,419.80) scale(0.98,1)" font-size="6.8" text-anchor="middle" fill="#222222" font-weight="normal"  stroke="#222222" stroke-width="0.16">5</text>
<text transform="translate(159.28,419.80) scale(0.98,1)" font-size="6.8" text-anchor="middle" fill="#222222" font-weight="normal"  stroke="#222222" stroke-width="0.16">1</text>
<text transform="translate(178.11,419.80) scale(0.98,1)" font-size="6.8" text-anchor="middle" fill="#222222" font-weight="normal"  stroke="#222222" stroke-width="0.16">1</text>
<text transform="translate(196.94,419.80) scale(0.98,1)" font-size="6.8" text-anchor="middle" fill="#222222" font-weight="normal"  stroke="#222222" stroke-width="0.16">0</text>
<text transform="translate(215.77,419.80) scale(0.98,1)" font-size="6.8" text-anchor="middle" fill="#222222" font-weight="normal"  stroke="#222222" stroke-width="0.16">0</text>
<text transform="translate(234.60,419.80) scale(0.98,1)" font-size="6.8" text-anchor="middle" fill="#222222" font-weight="normal"  stroke="#222222" stroke-width="0.16">0</text>
<text transform="translate(144.70,447.70) scale(0.6,1)" font-size="8.8" text-anchor="middle" fill="#222222" font-weight="bold"  stroke="#222222" stroke-width="0.22">Time</text>
<text transform="translate(22.00,413.20) rotate(-90) scale(0.6,1)" font-size="8.6" font-weight="bold" stroke="#222222" stroke-width="0.2" text-anchor="middle" fill="#222222">Group</text>
<text x="268.40" y="244.70" font-size="11.3" text-anchor="start" fill="#111" font-weight="bold" stroke="#111" stroke-width="0.35">D</text>
<path d="M310.20,233.70 L318.20,233.70 M314.20,231.90 L314.20,235.50" stroke="#972250" stroke-width="1.4" fill="none"/>
<text x="320.90" y="235.60" font-size="6.55" fill="#3a3a3a" stroke="#3a3a3a" stroke-width="0.1">NGS 10<tspan dy="-2.6" font-size="4.4">-6</tspan><tspan dy="2.6"> (-) AND LC-MS (-)</tspan></text>
<path d="M406.50,233.70 L414.50,233.70 M410.50,231.90 L410.50,235.50" stroke="#D8982E" stroke-width="1.4" fill="none"/>
<text x="417.20" y="235.60" font-size="6.55" fill="#3a3a3a" stroke="#3a3a3a" stroke-width="0.1">NGS 10<tspan dy="-2.6" font-size="4.4">-6</tspan><tspan dy="2.6"> (+) AND LC-MS (-)</tspan></text>
<path d="M310.20,242.90 L318.20,242.90 M314.20,241.10 L314.20,244.70" stroke="#284D72" stroke-width="1.4" fill="none"/>
<text x="320.90" y="244.80" font-size="6.55" fill="#3a3a3a" stroke="#3a3a3a" stroke-width="0.1">NGS 10<tspan dy="-2.6" font-size="4.4">-6</tspan><tspan dy="2.6"> (-) AND LC-MS (+)</tspan></text>
<path d="M406.50,242.90 L414.50,242.90 M410.50,241.10 L410.50,244.70" stroke="#4A9EC6" stroke-width="1.4" fill="none"/>
<text x="417.20" y="244.80" font-size="6.55" fill="#3a3a3a" stroke="#3a3a3a" stroke-width="0.1">NGS 10<tspan dy="-2.6" font-size="4.4">-6</tspan><tspan dy="2.6"> (+) AND LC-MS (+)</tspan></text>
<path d="M298.50,250.50 L298.50,366.00 L514.10,366.00" fill="none" stroke="#2a2a2a" stroke-width="1.6"/>
<text transform="translate(292.50,258.50) scale(0.92,1)" font-size="6.9" text-anchor="end" fill="#222222" font-weight="normal"  stroke="#222222" stroke-width="0.16">1.00</text>
<text transform="translate(292.50,284.80) scale(0.92,1)" font-size="6.9" text-anchor="end" fill="#222222" font-weight="normal"  stroke="#222222" stroke-width="0.16">0.75</text>
<text transform="translate(292.50,311.10) scale(0.92,1)" font-size="6.9" text-anchor="end" fill="#222222" font-weight="normal"  stroke="#222222" stroke-width="0.16">0.50</text>
<text transform="translate(292.50,337.40) scale(0.92,1)" font-size="6.9" text-anchor="end" fill="#222222" font-weight="normal"  stroke="#222222" stroke-width="0.16">0.25</text>
<text transform="translate(292.50,363.70) scale(0.92,1)" font-size="6.9" text-anchor="end" fill="#222222" font-weight="normal"  stroke="#222222" stroke-width="0.16">0.00</text>
<text transform="translate(307.80,377.90) scale(0.9,1)" font-size="6.9" text-anchor="middle" fill="#222222" font-weight="normal"  stroke="#222222" stroke-width="0.16">0</text>
<text transform="translate(326.63,377.90) scale(0.9,1)" font-size="6.9" text-anchor="middle" fill="#222222" font-weight="normal"  stroke="#222222" stroke-width="0.16">12</text>
<text transform="translate(345.46,377.90) scale(0.9,1)" font-size="6.9" text-anchor="middle" fill="#222222" font-weight="normal"  stroke="#222222" stroke-width="0.16">24</text>
<text transform="translate(364.29,377.90) scale(0.9,1)" font-size="6.9" text-anchor="middle" fill="#222222" font-weight="normal"  stroke="#222222" stroke-width="0.16">36</text>
<text transform="translate(383.12,377.90) scale(0.9,1)" font-size="6.9" text-anchor="middle" fill="#222222" font-weight="normal"  stroke="#222222" stroke-width="0.16">48</text>
<text transform="translate(401.95,377.90) scale(0.9,1)" font-size="6.9" text-anchor="middle" fill="#222222" font-weight="normal"  stroke="#222222" stroke-width="0.16">60</text>
<text transform="translate(420.78,377.90) scale(0.9,1)" font-size="6.9" text-anchor="middle" fill="#222222" font-weight="normal"  stroke="#222222" stroke-width="0.16">72</text>
<text transform="translate(439.61,377.90) scale(0.9,1)" font-size="6.9" text-anchor="middle" fill="#222222" font-weight="normal"  stroke="#222222" stroke-width="0.16">84</text>
<text transform="translate(458.44,377.90) scale(0.9,1)" font-size="6.9" text-anchor="middle" fill="#222222" font-weight="normal"  stroke="#222222" stroke-width="0.16">96</text>
<text transform="translate(477.27,377.90) scale(0.9,1)" font-size="6.9" text-anchor="middle" fill="#222222" font-weight="normal"  stroke="#222222" stroke-width="0.16">108</text>
<text transform="translate(496.10,377.90) scale(0.9,1)" font-size="6.9" text-anchor="middle" fill="#222222" font-weight="normal"  stroke="#222222" stroke-width="0.16">120</text>
<path d="M295.50,255.80 L298.50,255.80 M295.50,282.10 L298.50,282.10 M295.50,308.40 L298.50,308.40 M295.50,334.70 L298.50,334.70 M295.50,361.00 L298.50,361.00 M307.80,366.00 L307.80,369.00 M326.63,366.00 L326.63,369.00 M345.46,366.00 L345.46,369.00 M364.29,366.00 L364.29,369.00 M383.12,366.00 L383.12,369.00 M401.95,366.00 L401.95,369.00 M420.78,366.00 L420.78,369.00 M439.61,366.00 L439.61,369.00 M458.44,366.00 L458.44,369.00 M477.27,366.00 L477.27,369.00 M496.10,366.00 L496.10,369.00 " fill="none" stroke="#2a2a2a" stroke-width="1"/>
<text transform="translate(406.20,389.30) scale(0.6,1)" font-size="8.8" text-anchor="middle" fill="#222222" font-weight="bold"  stroke="#222222" stroke-width="0.22">Time</text>
<text transform="translate(273.80,308.20) rotate(-90) scale(0.745,1)" font-size="7.8" stroke="#222222" stroke-width="0.2" text-anchor="middle" fill="#222222">Progression-free survival</text>
<text x="305.40" y="355.90" font-size="6.42" fill="#222222" stroke="#222222" stroke-width="0.14"></text>
<path d="M308.00,255.50 L394.50,255.50 L394.50,267.50 L510.50,267.50" fill="none" stroke="#972250" stroke-width="1.3" stroke-linejoin="miter"/>
<path d="M346.50,254.00 L346.50,257.00 M354.50,254.00 L354.50,257.00 M359.50,254.00 L359.50,257.00 M368.50,254.00 L368.50,257.00 M370.50,254.00 L370.50,257.00 M386.50,254.00 L386.50,257.00 M405.50,266.00 L405.50,269.00 M409.50,266.00 L409.50,269.00 M417.50,266.00 L417.50,269.00 M438.50,266.00 L438.50,269.00 M466.50,266.00 L466.50,269.00 M510.50,266.00 L510.50,269.00 " fill="none" stroke="#972250" stroke-width="1.0"/>
<path d="M308.00,255.50 L336.50,255.50 L336.50,261.50 L368.50,261.50 L368.50,268.50 L374.50,268.50 L374.50,275.50 L385.50,275.50 L385.50,284.50 L448.50,284.50 L448.50,361.50 L448.50,361.50" fill="none" stroke="#284D72" stroke-width="1.3" stroke-linejoin="miter"/>
<path d="M355.50,260.00 L355.50,263.00 M385.50,283.00 L385.50,286.00 M389.50,283.00 L389.50,286.00 M392.50,283.00 L392.50,286.00 M403.50,283.00 L403.50,286.00 M418.50,283.00 L418.50,286.00 " fill="none" stroke="#284D72" stroke-width="1.0"/>
<path d="M308.00,255.50 L379.50,255.50" fill="none" stroke="#D8982E" stroke-width="1.3" stroke-linejoin="miter"/>
<path d="M379.50,254.00 L379.50,257.00 " fill="none" stroke="#D8982E" stroke-width="1.0"/>
<path d="M308.00,255.50 L320.50,255.50 L320.50,259.50 L330.50,259.50 L330.50,263.50 L338.50,263.50 L338.50,266.50 L343.50,266.50 L343.50,270.50 L350.50,270.50 L350.50,274.50 L358.50,274.50 L358.50,278.50 L359.50,278.50 L359.50,283.50 L363.50,283.50 L363.50,291.50 L369.50,291.50 L369.50,295.50 L372.50,295.50 L372.50,300.50 L394.50,300.50 L394.50,305.50 L423.50,305.50 L423.50,313.50 L445.50,313.50 L445.50,321.50 L462.50,321.50 L462.50,334.50 L481.50,334.50" fill="none" stroke="#4A9EC6" stroke-width="1.3" stroke-linejoin="miter"/>
<path d="M355.50,273.00 L355.50,276.00 M389.50,299.00 L389.50,302.00 M407.50,304.00 L407.50,307.00 M449.50,320.00 L449.50,323.00 M458.50,320.00 L458.50,323.00 M461.50,320.00 L461.50,323.00 M468.50,333.00 L468.50,336.00 M481.50,333.00 L481.50,336.00 " fill="none" stroke="#4A9EC6" stroke-width="1.0"/>
<text transform="translate(298.50,400.00) scale(0.93,1)" font-size="6.5" text-anchor="start" fill="#222222" font-weight="normal"  stroke="#222222" stroke-width="0.16">Number at risk</text>
<text transform="translate(307.80,456.30) scale(0.9,1)" font-size="6.9" text-anchor="middle" fill="#222222" font-weight="normal"  stroke="#222222" stroke-width="0.16">0</text>
<text transform="translate(326.63,456.30) scale(0.9,1)" font-size="6.9" text-anchor="middle" fill="#222222" font-weight="normal"  stroke="#222222" stroke-width="0.16">12</text>
<text transform="translate(345.46,456.30) scale(0.9,1)" font-size="6.9" text-anchor="middle" fill="#222222" font-weight="normal"  stroke="#222222" stroke-width="0.16">24</text>
<text transform="translate(364.29,456.30) scale(0.9,1)" font-size="6.9" text-anchor="middle" fill="#222222" font-weight="normal"  stroke="#222222" stroke-width="0.16">36</text>
<text transform="translate(383.12,456.30) scale(0.9,1)" font-size="6.9" text-anchor="middle" fill="#222222" font-weight="normal"  stroke="#222222" stroke-width="0.16">48</text>
<text transform="translate(401.95,456.30) scale(0.9,1)" font-size="6.9" text-anchor="middle" fill="#222222" font-weight="normal"  stroke="#222222" stroke-width="0.16">60</text>
<text transform="translate(420.78,456.30) scale(0.9,1)" font-size="6.9" text-anchor="middle" fill="#222222" font-weight="normal"  stroke="#222222" stroke-width="0.16">72</text>
<text transform="translate(439.61,456.30) scale(0.9,1)" font-size="6.9" text-anchor="middle" fill="#222222" font-weight="normal"  stroke="#222222" stroke-width="0.16">84</text>
<text transform="translate(458.44,456.30) scale(0.9,1)" font-size="6.9" text-anchor="middle" fill="#222222" font-weight="normal"  stroke="#222222" stroke-width="0.16">96</text>
<text transform="translate(477.27,456.30) scale(0.9,1)" font-size="6.9" text-anchor="middle" fill="#222222" font-weight="normal"  stroke="#222222" stroke-width="0.16">108</text>
<text transform="translate(496.10,456.30) scale(0.9,1)" font-size="6.9" text-anchor="middle" fill="#222222" font-weight="normal"  stroke="#222222" stroke-width="0.16">120</text>
<path d="M298.50,402.70 L298.50,444.50 L514.10,444.50" fill="none" stroke="#2a2a2a" stroke-width="1.6"/>
<path d="M295.50,407.40 L298.50,407.40 M295.50,407.40 L298.50,407.40 M295.50,417.50 L298.50,417.50 M295.50,427.60 L298.50,427.60 M295.50,437.70 L298.50,437.70 M307.80,444.50 L307.80,447.50 M326.63,444.50 L326.63,447.50 M345.46,444.50 L345.46,447.50 M364.29,444.50 L364.29,447.50 M383.12,444.50 L383.12,447.50 M401.95,444.50 L401.95,447.50 M420.78,444.50 L420.78,447.50 M439.61,444.50 L439.61,447.50 M458.44,444.50 L458.44,447.50 M477.27,444.50 L477.27,447.50 M496.10,444.50 L496.10,447.50 " fill="none" stroke="#2a2a2a" stroke-width="1"/>
<text transform="translate(290.50,409.70) scale(0.9,1)" font-size="6.8" text-anchor="middle" fill="#972250" font-weight="normal" opacity="0.6" stroke="#972250" stroke-width="0.16">1</text>
<text transform="translate(307.80,409.70) scale(0.98,1)" font-size="6.8" text-anchor="middle" fill="#222222" font-weight="normal"  stroke="#222222" stroke-width="0.16">19</text>
<text transform="translate(326.63,409.70) scale(0.98,1)" font-size="6.8" text-anchor="middle" fill="#222222" font-weight="normal"  stroke="#222222" stroke-width="0.16">19</text>
<text transform="translate(345.46,409.70) scale(0.98,1)" font-size="6.8" text-anchor="middle" fill="#222222" font-weight="normal"  stroke="#222222" stroke-width="0.16">19</text>
<text transform="translate(364.29,409.70) scale(0.98,1)" font-size="6.8" text-anchor="middle" fill="#222222" font-weight="normal"  stroke="#222222" stroke-width="0.16">15</text>
<text transform="translate(383.12,409.70) scale(0.98,1)" font-size="6.8" text-anchor="middle" fill="#222222" font-weight="normal"  stroke="#222222" stroke-width="0.16">10</text>
<text transform="translate(401.95,409.70) scale(0.98,1)" font-size="6.8" text-anchor="middle" fill="#222222" font-weight="normal"  stroke="#222222" stroke-width="0.16">8</text>
<text transform="translate(420.78,409.70) scale(0.98,1)" font-size="6.8" text-anchor="middle" fill="#222222" font-weight="normal"  stroke="#222222" stroke-width="0.16">3</text>
<text transform="translate(439.61,409.70) scale(0.98,1)" font-size="6.8" text-anchor="middle" fill="#222222" font-weight="normal"  stroke="#222222" stroke-width="0.16">2</text>
<text transform="translate(458.44,409.70) scale(0.98,1)" font-size="6.8" text-anchor="middle" fill="#222222" font-weight="normal"  stroke="#222222" stroke-width="0.16">2</text>
<text transform="translate(477.27,409.70) scale(0.98,1)" font-size="6.8" text-anchor="middle" fill="#222222" font-weight="normal"  stroke="#222222" stroke-width="0.16">1</text>
<text transform="translate(496.10,409.70) scale(0.98,1)" font-size="6.8" text-anchor="middle" fill="#222222" font-weight="normal"  stroke="#222222" stroke-width="0.16">1</text>
<text transform="translate(290.50,419.80) scale(0.9,1)" font-size="6.8" text-anchor="middle" fill="#284D72" font-weight="normal" opacity="0.6" stroke="#284D72" stroke-width="0.16">2</text>
<text transform="translate(307.80,419.80) scale(0.98,1)" font-size="6.8" text-anchor="middle" fill="#222222" font-weight="normal"  stroke="#222222" stroke-width="0.16">17</text>
<text transform="translate(326.63,419.80) scale(0.98,1)" font-size="6.8" text-anchor="middle" fill="#222222" font-weight="normal"  stroke="#222222" stroke-width="0.16">17</text>
<text transform="translate(345.46,419.80) scale(0.98,1)" font-size="6.8" text-anchor="middle" fill="#222222" font-weight="normal"  stroke="#222222" stroke-width="0.16">16</text>
<text transform="translate(364.29,419.80) scale(0.98,1)" font-size="6.8" text-anchor="middle" fill="#222222" font-weight="normal"  stroke="#222222" stroke-width="0.16">15</text>
<text transform="translate(383.12,419.80) scale(0.98,1)" font-size="6.8" text-anchor="middle" fill="#222222" font-weight="normal"  stroke="#222222" stroke-width="0.16">11</text>
<text transform="translate(401.95,419.80) scale(0.98,1)" font-size="6.8" text-anchor="middle" fill="#222222" font-weight="normal"  stroke="#222222" stroke-width="0.16">5</text>
<text transform="translate(420.78,419.80) scale(0.98,1)" font-size="6.8" text-anchor="middle" fill="#222222" font-weight="normal"  stroke="#222222" stroke-width="0.16">1</text>
<text transform="translate(439.61,419.80) scale(0.98,1)" font-size="6.8" text-anchor="middle" fill="#222222" font-weight="normal"  stroke="#222222" stroke-width="0.16">1</text>
<text transform="translate(458.44,419.80) scale(0.98,1)" font-size="6.8" text-anchor="middle" fill="#222222" font-weight="normal"  stroke="#222222" stroke-width="0.16">0</text>
<text transform="translate(477.27,419.80) scale(0.98,1)" font-size="6.8" text-anchor="middle" fill="#222222" font-weight="normal"  stroke="#222222" stroke-width="0.16">0</text>
<text transform="translate(496.10,419.80) scale(0.98,1)" font-size="6.8" text-anchor="middle" fill="#222222" font-weight="normal"  stroke="#222222" stroke-width="0.16">0</text>
<text transform="translate(290.50,429.90) scale(0.9,1)" font-size="6.8" text-anchor="middle" fill="#D8982E" font-weight="normal" opacity="0.6" stroke="#D8982E" stroke-width="0.16">3</text>
<text transform="translate(307.80,429.90) scale(0.98,1)" font-size="6.8" text-anchor="middle" fill="#222222" font-weight="normal"  stroke="#222222" stroke-width="0.16">4</text>
<text transform="translate(326.63,429.90) scale(0.98,1)" font-size="6.8" text-anchor="middle" fill="#222222" font-weight="normal"  stroke="#222222" stroke-width="0.16">4</text>
<text transform="translate(345.46,429.90) scale(0.98,1)" font-size="6.8" text-anchor="middle" fill="#222222" font-weight="normal"  stroke="#222222" stroke-width="0.16">4</text>
<text transform="translate(364.29,429.90) scale(0.98,1)" font-size="6.8" text-anchor="middle" fill="#222222" font-weight="normal"  stroke="#222222" stroke-width="0.16">2</text>
<text transform="translate(383.12,429.90) scale(0.98,1)" font-size="6.8" text-anchor="middle" fill="#222222" font-weight="normal"  stroke="#222222" stroke-width="0.16">0</text>
<text transform="translate(401.95,429.90) scale(0.98,1)" font-size="6.8" text-anchor="middle" fill="#222222" font-weight="normal"  stroke="#222222" stroke-width="0.16">0</text>
<text transform="translate(420.78,429.90) scale(0.98,1)" font-size="6.8" text-anchor="middle" fill="#222222" font-weight="normal"  stroke="#222222" stroke-width="0.16">0</text>
<text transform="translate(439.61,429.90) scale(0.98,1)" font-size="6.8" text-anchor="middle" fill="#222222" font-weight="normal"  stroke="#222222" stroke-width="0.16">0</text>
<text transform="translate(458.44,429.90) scale(0.98,1)" font-size="6.8" text-anchor="middle" fill="#222222" font-weight="normal"  stroke="#222222" stroke-width="0.16">0</text>
<text transform="translate(477.27,429.90) scale(0.98,1)" font-size="6.8" text-anchor="middle" fill="#222222" font-weight="normal"  stroke="#222222" stroke-width="0.16">0</text>
<text transform="translate(496.10,429.90) scale(0.98,1)" font-size="6.8" text-anchor="middle" fill="#222222" font-weight="normal"  stroke="#222222" stroke-width="0.16">0</text>
<text transform="translate(290.50,440.00) scale(0.9,1)" font-size="6.8" text-anchor="middle" fill="#4A9EC6" font-weight="normal" opacity="0.6" stroke="#4A9EC6" stroke-width="0.16">4</text>
<text transform="translate(307.80,440.00) scale(0.98,1)" font-size="6.8" text-anchor="middle" fill="#222222" font-weight="normal"  stroke="#222222" stroke-width="0.16">28</text>
<text transform="translate(326.63,440.00) scale(0.98,1)" font-size="6.8" text-anchor="middle" fill="#222222" font-weight="normal"  stroke="#222222" stroke-width="0.16">26</text>
<text transform="translate(345.46,440.00) scale(0.98,1)" font-size="6.8" text-anchor="middle" fill="#222222" font-weight="normal"  stroke="#222222" stroke-width="0.16">23</text>
<text transform="translate(364.29,440.00) scale(0.98,1)" font-size="6.8" text-anchor="middle" fill="#222222" font-weight="normal"  stroke="#222222" stroke-width="0.16">17</text>
<text transform="translate(383.12,440.00) scale(0.98,1)" font-size="6.8" text-anchor="middle" fill="#222222" font-weight="normal"  stroke="#222222" stroke-width="0.16">13</text>
<text transform="translate(401.95,440.00) scale(0.98,1)" font-size="6.8" text-anchor="middle" fill="#222222" font-weight="normal"  stroke="#222222" stroke-width="0.16">9</text>
<text transform="translate(420.78,440.00) scale(0.98,1)" font-size="6.8" text-anchor="middle" fill="#222222" font-weight="normal"  stroke="#222222" stroke-width="0.16">7</text>
<text transform="translate(439.61,440.00) scale(0.98,1)" font-size="6.8" text-anchor="middle" fill="#222222" font-weight="normal"  stroke="#222222" stroke-width="0.16">6</text>
<text transform="translate(458.44,440.00) scale(0.98,1)" font-size="6.8" text-anchor="middle" fill="#222222" font-weight="normal"  stroke="#222222" stroke-width="0.16">5</text>
<text transform="translate(477.27,440.00) scale(0.98,1)" font-size="6.8" text-anchor="middle" fill="#222222" font-weight="normal"  stroke="#222222" stroke-width="0.16">1</text>
<text transform="translate(496.10,440.00) scale(0.98,1)" font-size="6.8" text-anchor="middle" fill="#222222" font-weight="normal"  stroke="#222222" stroke-width="0.16">0</text>
<text transform="translate(406.20,467.90) scale(0.6,1)" font-size="8.8" text-anchor="middle" fill="#222222" font-weight="bold"  stroke="#222222" stroke-width="0.22">Time</text>
<text transform="translate(283.50,412.60) rotate(-90) scale(0.6,1)" font-size="8.6" font-weight="bold" stroke="#222222" stroke-width="0.2" text-anchor="middle" fill="#222222">Group</text>
<rect x="0.5" y="0.5" width="519" height="473" fill="none" stroke="#5a5a5a" stroke-width="1"/>
</svg></body></html>
